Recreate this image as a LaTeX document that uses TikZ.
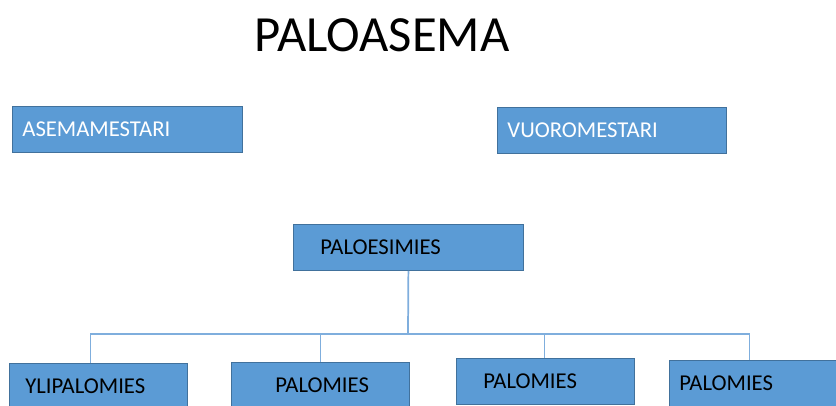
\documentclass[tikz,border=0pt]{standalone}
\usepackage{fontspec}
\setmainfont{Carlito}
\usetikzlibrary{calc}
\definecolor{boxblue}{HTML}{5B9BD5}
\definecolor{boxedge}{HTML}{41719C}
\definecolor{linkblue}{HTML}{7FAEDD}
\newcommand{\px}{0.75pt}
\newcommand{\boxtext}{\fontsize{17}{19}\selectfont}
\tikzset{
  post/.style n args={2}{draw=boxedge, fill=boxblue, line width=0.6pt,
    anchor=north west, minimum height=46*\px, inner ysep=0pt,
    inner xsep=#2*\px, text width=(#1-2*#2)*\px, align=left, font=\boxtext},
  link/.style={draw=linkblue, line width=1.3pt}
}

\begin{document}
\begin{tikzpicture}[x=\px, y=-\px]
\useasboundingbox (0,0) rectangle (836,405);
\clip (0,0) rectangle (836,405);
\node[font=\fontsize{38}{40}\selectfont] (title) at (382,35) {PALOASEMA};
%top row
\node[post={230}{10}, text=white] (asemamestari) at (12,106) {ASEMAMESTARI};
\node[post={229}{10}, text=white] (vuoromestari) at (497,107) {VUOROMESTARI};
%middle
\node[post={230}{27}] (paloesimies) at (293,224) {PALOESIMIES};
%bottom row
\node[post={178}{16}] (ylipalomies) at (9,363) {YLIPALOMIES};
\node[post={178}{44}] (palomiesa) at (231,362) {PALOMIES};
\node[post={178}{27}] (palomiesb) at (456,358) {PALOMIES};
\node[post={178}{10}] (palomiesc) at (669,360) {PALOMIES};
%connectors
\coordinate (bus) at (408,334);
\draw[link] (paloesimies.south) -- (bus);
\draw[link] (bus) -| ($(ylipalomies.north)+(-8,0)$);
\draw[link] (bus) -| (palomiesa.north);
\draw[link] (bus) -| ($(palomiesb.north)+(-1,0)$);
\draw[link] (bus) -| ($(palomiesc.north)+(-9,0)$);
\end{tikzpicture}
\end{document}
